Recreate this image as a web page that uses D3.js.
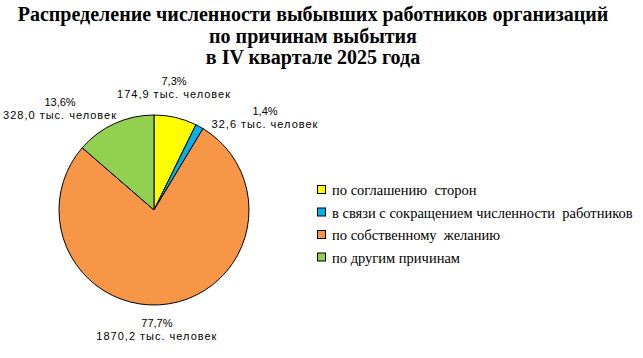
<!DOCTYPE html>
<html><head><meta charset="utf-8">
<script src="https://cdn.jsdelivr.net/npm/d3@7"></script>
<style>body{margin:0;background:#fff}svg{display:block}</style>
</head><body>
<script>
const titleLines = ["Распределение численности выбывших работников организаций", "по причинам выбытия", "в IV квартале 2025 года"];
const categories = ["по соглашению  сторон", "в связи с сокращением численности  работников", "по собственному  желанию", "по другим причинам"];
const values = [174.9, 32.6, 1870.2, 328.0];
const percents = ["7,3%", "1,4%", "77,7%", "13,6%"];
const valueLabels = ["174,9 тыс. человек", "32,6 тыс. человек", "1870,2 тыс. человек", "328,0 тыс. человек"];
const colors = ["#FFFF00", "#00B0F0", "#F79646", "#92D050"];

const W = 643, H = 358;
const svg = d3.select("body").append("svg").attr("width", W).attr("height", H);

// Title
const titleY = [21, 43, 64];
svg.append("g").selectAll("text").data(titleLines).join("text")
  .attr("x", 313).attr("y", (d, i) => titleY[i])
  .attr("text-anchor", "middle")
  .attr("font-family", "'Liberation Serif','Times New Roman',serif")
  .attr("font-weight", "bold").attr("font-size", 20).attr("fill", "#000")
  .text(d => d);

// Pie
const cx = 154, cy = 210, r = 95;
const pie = d3.pie().sort(null).value(d => d);
const arc = d3.arc().innerRadius(0).outerRadius(r);
const edge = d3.arc().innerRadius(r).outerRadius(r);
const arcs = pie(values);
const g = svg.append("g").attr("transform", `translate(${cx},${cy})`);
g.selectAll("path").data(arcs).join("path")
  .attr("d", arc).attr("fill", (d, i) => colors[i])
  .attr("stroke", "#000").attr("stroke-width", 1);

// Labels: anchored at slice's edge midpoint, then offset outward
const offsets = [[-1.5, -32], [65.5, -11.5], [-12, 23.5], [-54.5, -17.5]];
const lg = svg.append("g").attr("font-family", "'Liberation Sans',Arial,sans-serif")
  .attr("font-size", 11).attr("fill", "#000");
arcs.forEach((d, i) => {
  const [x, y] = edge.centroid(d);
  const t = lg.append("text").attr("text-anchor", "middle")
    .attr("transform", `translate(${cx + x + offsets[i][0]},${cy + y + offsets[i][1]})`);
  t.append("tspan").attr("x", 0).attr("y", 0).text(percents[i]);
  t.append("tspan").attr("x", 0).attr("y", 12.5).attr("letter-spacing", 1).text(valueLabels[i]);
});

// Legend
const legY = [190, 212.5, 235, 257.5];
const leg = svg.append("g");
categories.forEach((c, i) => {
  leg.append("rect").attr("x", 317.5).attr("y", legY[i] - 4.5).attr("width", 8).attr("height", 8)
    .attr("fill", colors[i]).attr("stroke", "#000").attr("stroke-width", 1);
  leg.append("text").attr("x", 332).attr("y", legY[i] + 5)
    .attr("font-family", "'Liberation Serif','Times New Roman',serif").attr("font-size", 14.5)
    .attr("xml:space", "preserve").style("white-space", "pre")
    .attr("fill", "#000").text(c);
});
</script>
</body></html>
